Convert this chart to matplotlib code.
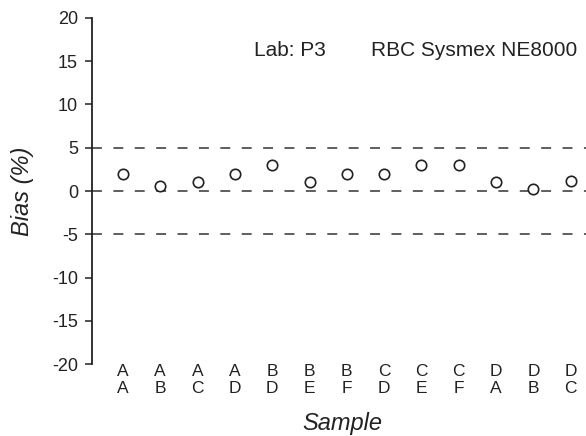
import matplotlib
matplotlib.use("Agg")
import matplotlib.pyplot as plt

plt.rcParams['font.family'] = ['Liberation Sans', 'DejaVu Sans']

top_letters = ["A", "A", "A", "A", "B", "B", "B", "C", "C", "C", "D", "D", "D"]
bottom_letters = ["A", "B", "C", "D", "D", "E", "F", "D", "E", "F", "A", "B", "C"]
bias = [2.0, 0.6, 1.0, 2.0, 3.0, 1.0, 2.0, 2.0, 3.0, 3.0, 1.0, 0.2, 1.1]
limit_lines = [5, 0, -5]
y_ticks = [-20, -15, -10, -5, 0, 5, 10, 15, 20]

W, H = 586, 436
fig = plt.figure(figsize=(W/100, H/100), dpi=100)
ax = fig.add_axes([92/W, 72/H, 494/W, 346/H])

x = list(range(1, len(bias) + 1))
for yl in limit_lines:
    ax.axhline(yl, color='#333333', lw=1.1, dashes=(6.5, 7.5), zorder=1)
ax.plot(x, bias, linestyle='none', marker='o', markersize=7.5,
        markerfacecolor='white', markeredgecolor='#222222', markeredgewidth=1.2, zorder=3)

ax.set_xlim(0.17, 13.41)
ax.set_ylim(-20, 20)
ax.set_yticks(y_ticks)
ax.set_yticklabels([str(v) for v in y_ticks], fontsize=13, color='#222222')
ax.set_xticks(x)
ax.set_xticklabels([f"{a}\n{b}" for a, b in zip(top_letters, bottom_letters)],
                   fontsize=12.5, color='#222222', linespacing=1.2)
ax.tick_params(axis='x', length=0, pad=0)
ax.tick_params(axis='y', length=5, width=1.1, direction='out', color='#222222', pad=5)

for s in ['top', 'right', 'bottom']:
    ax.spines[s].set_visible(False)
ax.spines['left'].set_linewidth(1.3)
ax.spines['left'].set_color('#222222')

fig.text(22/W, 1 - 191/H, 'Bias (%)', fontsize=17, style='italic', color='#222222',
         rotation=90, ha='center', va='center')
fig.text(342/W, 1 - 423/H, 'Sample', fontsize=17, style='italic', color='#222222',
         ha='center', va='center')

fig.text(254/W, 1 - 51/H, 'Lab: P3', fontsize=15, color='#222222', va='center', ha='left')
fig.text(371/W, 1 - 51/H, 'RBC Sysmex NE8000', fontsize=15, color='#222222', va='center', ha='left')

fig.savefig('out.png', dpi=100)
